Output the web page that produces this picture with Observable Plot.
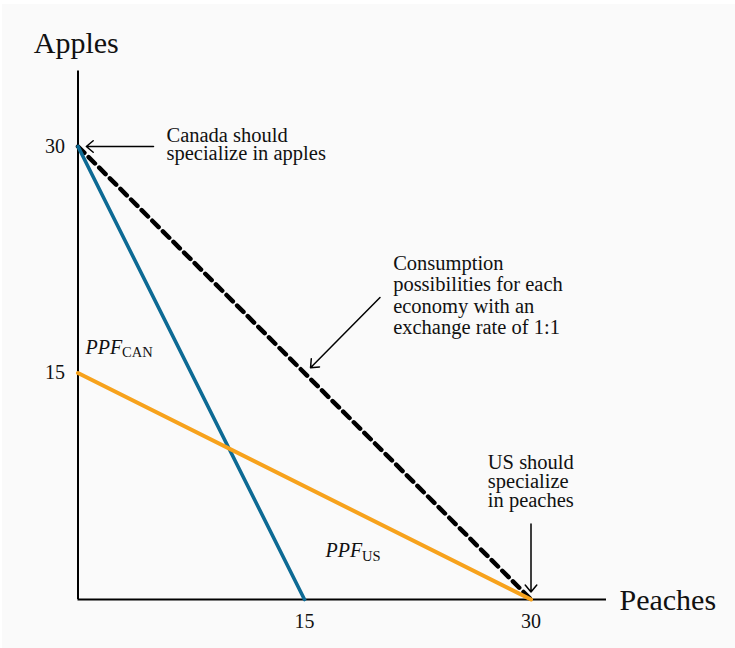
<!DOCTYPE html>
<html><head><meta charset="utf-8">
<script src="https://cdn.jsdelivr.net/npm/d3@7"></script>
<script src="https://cdn.jsdelivr.net/npm/@observablehq/plot@0.6"></script>
<style>
html,body{margin:0;padding:0;background:#fff;overflow:hidden;}
#chart{position:absolute;left:2px;top:4px;width:733px;height:644px;background:#fafafa;}
</style></head><body><div id="chart"></div>
<script>
// Data
const xTicks = [15, 30];
const yTicks = [15, 30];
const blueLinePeaches = [0, 15];
const blueLineApples = [30, 0];
const orangeLinePeaches = [0, 30];
const orangeLineApples = [15, 0];
const tradePeaches = [0, 30];
const tradeApples = [30, 0];
const axisTitles = ["Apples", "Peaches"];
const axisTitleX = [-2.93, 35.86];
const axisTitleY = [36.2, -0.68];
const notes = ["Canada should\nspecialize in apples", "Consumption\npossibilities for each\neconomy with an\nexchange rate of 1:1", "US should\nspecialize\nin peaches"];
const noteX = [5.86, 20.87, 27.14];
const noteY = [29.12, 17.55, 6.11];
const noteLineHeight = [0.87, 1.05, 0.93];
const arrowX1 = [5.0, 20.0, 30.0];
const arrowY1 = [30, 20.0, 5.0];
const arrowX2 = [0.55, 15.4, 30.0];
const arrowY2 = [30, 15.35, 0.5];
const ppfMain = ["PPF", "PPF"];
const ppfSub = ["CAN", "US"];
const ppfX = [0.5, 16.39];
const ppfY = [16.27, 2.8];

const noteMarks = notes.map((n, i) => Plot.text([n], {
  x: [noteX[i]], y: [noteY[i]], text: d => d, fontSize: 20.5,
  textAnchor: "start", lineAnchor: "bottom", lineHeight: noteLineHeight[i], fill: "#111"
}));

const chart = Plot.plot({
  width: 733, height: 644,
  marginLeft: 75.5, marginRight: 129, marginTop: 66.5, marginBottom: 49,
  x: {domain: [0, 35]},
  y: {domain: [0, 35]},
  style: {background: "transparent", fontFamily: "Liberation Serif", fontSize: "20px", color: "#111", overflow: "visible"},
  marks: [
    Plot.axisX(xTicks, {tickSize: 0, tickPadding: 14, label: null}),
    Plot.axisY(yTicks, {tickSize: 0, tickPadding: 13, label: null}),
    Plot.ruleX([0], {stroke: "black", strokeWidth: 2}),
    Plot.ruleY([0], {stroke: "black", strokeWidth: 2}),
    Plot.line(tradePeaches, {x: tradePeaches, y: tradeApples, stroke: "black", strokeWidth: 4.5, strokeDasharray: "9,6"}),
    Plot.line(blueLinePeaches, {x: blueLinePeaches, y: blueLineApples, stroke: "#0d6a94", strokeWidth: 3.6}),
    Plot.line(orangeLinePeaches, {x: orangeLinePeaches, y: orangeLineApples, stroke: "#f7a21c", strokeWidth: 4}),
    Plot.arrow(notes, {x1: arrowX1, y1: arrowY1, x2: arrowX2, y2: arrowY2, stroke: "black", strokeWidth: 1.5, headLength: 9, headAngle: 80}),
    ...noteMarks,
    Plot.text(ppfMain, {x: ppfX, y: ppfY, text: d => d, fontStyle: "italic", textAnchor: "start", lineAnchor: "bottom", fill: "#111"}),
    Plot.text(ppfSub, {x: ppfX, y: ppfY, text: d => d, dx: 36.5, dy: 3.5, fontSize: 14.5, textAnchor: "start", lineAnchor: "bottom", fill: "#111"}),
    Plot.text(axisTitles, {x: axisTitleX, y: axisTitleY, text: d => d, fontSize: 30, textAnchor: "start", lineAnchor: "bottom", fill: "#111"})
  ]
});
document.getElementById("chart").appendChild(chart);
</script></body></html>
